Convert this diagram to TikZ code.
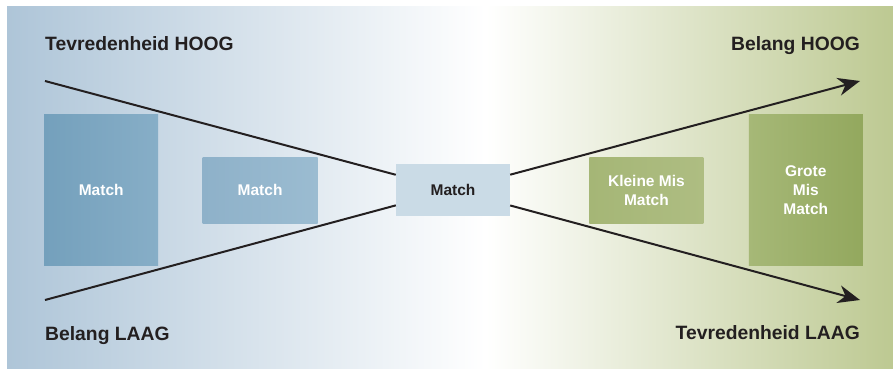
\documentclass[tikz,border=0pt]{standalone}
\usepackage{fontspec}
\setmainfont{Liberation Sans}
\usepackage{tikz}
\usetikzlibrary{arrows.meta, positioning}

\definecolor{bgblue}{HTML}{AEC5D8}
\definecolor{bggreen}{HTML}{BDC992}
\definecolor{darktext}{HTML}{231F20}
\definecolor{farleft}{HTML}{74A0BC}
\definecolor{farright}{HTML}{87AEC7}
\definecolor{nearleft}{HTML}{8EB1C9}
\definecolor{nearright}{HTML}{9BBCD1}
\definecolor{midfill}{HTML}{CADBE6}
\definecolor{smallleft}{HTML}{A5B676}
\definecolor{smallright}{HTML}{AEBD82}
\definecolor{bigleft}{HTML}{A6B877}
\definecolor{bigright}{HTML}{93A85E}
\pgfdeclarehorizontalshading{bgshade}{100bp}{color(0bp)=(bgblue); color(25bp)=(bgblue); color(52bp)=(white); color(75bp)=(bggreen); color(100bp)=(bggreen)}

\begin{document}
\begin{tikzpicture}[x=1pt, y=-1pt, node distance=78pt]

        % Define styles
        \tikzstyle{box} = [rectangle, inner sep=0pt, align=center, text=white, font=\bfseries\fontsize{15.5}{19}\selectfont]
        \tikzstyle{bigbox} = [box, minimum width=114pt, minimum height=151pt]
        \tikzstyle{smallbox} = [box, minimum width=115pt, minimum height=66pt]
        \tikzstyle{axislabel} = [inner sep=0pt, text=darktext, font=\bfseries\fontsize{19.3}{23}\selectfont]
        \tikzstyle{line} = [draw=darktext, line width=2pt]
        \tikzstyle{tip} = [line, -{Stealth[length=22pt, width=18pt, inset=7pt]}]

        % Background
        \useasboundingbox (0,0) rectangle (893,369);
        \shade [shading=bgshade] (7,7) rectangle (893,368);

        % Place nodes
        \node [box, minimum width=114pt, minimum height=52pt, fill=midfill, text=darktext] (midmatch) at (453,190) {Match};
        \node [smallbox, left=of midmatch, left color=nearleft, right color=nearright] (leftmatch) {Match};
        \node [bigbox, left=44pt of leftmatch, left color=farleft, right color=farright] (farmatch) {Match};
        \node [smallbox, minimum width=114pt, right=79pt of midmatch, left color=smallleft, right color=smallright] (smallmis) {Kleine Mis\\Match};
        \node [bigbox, right=45pt of smallmis, left color=bigleft, right color=bigright] (bigmis) {Grote\\Mis\\Match};

        % Labels
        \node [axislabel, anchor=base west] (tevhoog) at (45,51) {Tevredenheid HOOG};
        \node [axislabel, anchor=base east] (belhoog) at (860,50) {Belang HOOG};
        \node [axislabel, anchor=base west] (bellaag) at (45,340) {Belang LAAG};
        \node [axislabel, anchor=base east] (tevlaag) at (860,339) {Tevredenheid LAAG};

        % Line ends
        \coordinate (tevstart) at (45,81);
        \coordinate (belstart) at (45,300);
        \coordinate (belend) at (860,81);
        \coordinate (tevend) at (860,300);

        % Draw edges
        \path [line] (tevstart) -- (midmatch);
        \path [tip] (midmatch) -- (tevend);
        \path [line] (belstart) -- (midmatch);
        \path [tip] (midmatch) -- (belend);

    \end{tikzpicture}
\end{document}
